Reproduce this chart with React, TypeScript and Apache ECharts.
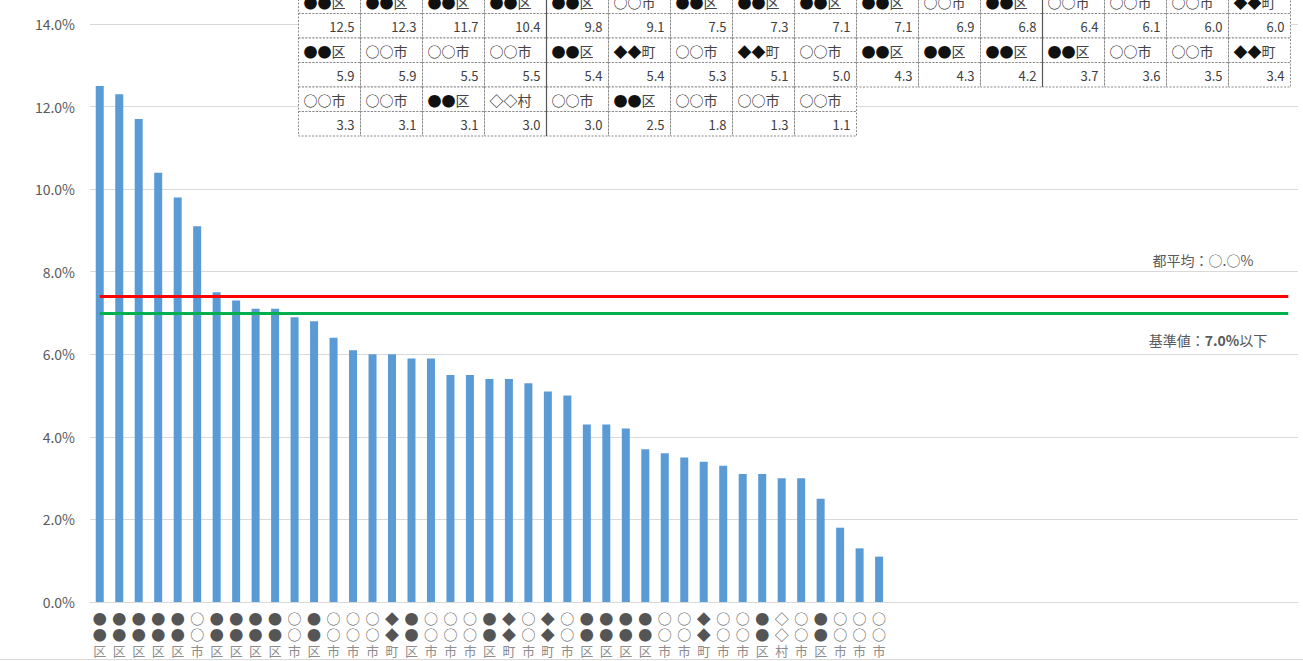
import React, { useEffect, useRef } from "react";
import * as echarts from "echarts";

// ---- data ----
const categories: string[] = [
  "●●区", "●●区", "●●区", "●●区", "●●区", "○○市", "●●区", "●●区", "●●区", "●●区", "○○市", "●●区", "○○市", "○○市", "○○市", "◆◆町",
  "●●区", "○○市", "○○市", "○○市", "●●区", "◆◆町", "○○市", "◆◆町", "○○市", "●●区", "●●区", "●●区", "●●区", "○○市", "○○市", "◆◆町",
  "○○市", "○○市", "●●区", "◇◇村", "○○市", "●●区", "○○市", "○○市", "○○市",
];
const values: number[] = [
  12.5, 12.3, 11.7, 10.4, 9.8, 9.1, 7.5, 7.3, 7.1, 7.1, 6.9, 6.8, 6.4, 6.1, 6.0, 6.0,
  5.9, 5.9, 5.5, 5.5, 5.4, 5.4, 5.3, 5.1, 5.0, 4.3, 4.3, 4.2, 3.7, 3.6, 3.5, 3.4,
  3.3, 3.1, 3.1, 3.0, 3.0, 2.5, 1.8, 1.3, 1.1,
];
const totalSlots = 62; // category slots on the axis (trailing ones empty)
const cityAverage = 7.4;
const standardValue = 7.0;
const avgLabel = "都平均：○.○%";
const stdLabelParts = ["基準値：", "7.0%", "以下"];
const yMin = 0;
const yMax = 14;
const yInterval = 2;

const FONT = '"Noto Sans CJK JP", "Noto Sans", sans-serif';

export default function App() {
  const ref = useRef<HTMLDivElement>(null);

  useEffect(() => {
    if (!ref.current) return;
    const chart = echarts.init(ref.current, undefined, { renderer: "svg" });

    const axisData = categories.concat(
      Array.from({ length: totalSlots - categories.length }, () => "")
    );

    // table built from data
    const cols = 16;
    const tableLeft = 298;
    const colW = 62;
    const tableTop = -11.5;
    const rowH = 24.5;
    const tableEls: any[] = [];
    categories.forEach((cat, i) => {
      const col = i % cols;
      const r = Math.floor(i / cols);
      const x0 = tableLeft + col * colW + 0.5;
      const yl = tableTop + r * 2 * rowH + 0.5;
      const yv = yl + rowH;
      const cellStyle = {
        fill: "#ffffff",
        stroke: "#8a8a8a",
        lineWidth: 1,
        lineDash: [2, 1.5],
      };
      tableEls.push({
        type: "rect",
        z: 100,
        shape: { x: x0, y: yl, width: colW, height: rowH },
        style: cellStyle,
      });
      tableEls.push({
        type: "rect",
        z: 100,
        shape: { x: x0, y: yv, width: colW, height: rowH },
        style: cellStyle,
      });
      tableEls.push({
        type: "text",
        z: 101,
        style: {
          x: x0 + 5,
          y: yl + rowH / 2 + 1,
          text: "{s|" + cat.slice(0, 2) + "}{k|" + cat.slice(2) + "}",
          align: "left",
          verticalAlign: "middle",
          rich: {
            s: { fontSize: 14, fontFamily: FONT, fill: "#111111" },
            k: { fontSize: 14, fontFamily: FONT, fill: "#444444" },
          },
        },
      });
      tableEls.push({
        type: "text",
        z: 101,
        style: {
          x: x0 + colW - 6,
          y: yv + rowH / 2 + 1,
          text: values[i].toFixed(1),
          align: "right",
          verticalAlign: "middle",
          fontSize: 13,
          fontFamily: FONT,
          fill: "#404040",
        },
      });
    });
    // thicker separators
    const nRowsFull = Math.floor(categories.length / cols);
    const sepCols = [4, 12];
    sepCols.forEach((c) => {
      const x = tableLeft + c * colW + 0.5;
      const lastRowUsed = categories.length % cols > c ? nRowsFull + 1 : nRowsFull;
      tableEls.push({
        type: "line",
        z: 102,
        shape: { x1: x, y1: tableTop, x2: x, y2: tableTop + lastRowUsed * 2 * rowH + 0.5 },
        style: { stroke: "#555555", lineWidth: 1.2 },
      });
    });

    chart.setOption({
      animation: false,
      backgroundColor: "#ffffff",
      grid: {
        left: 90,
        right: 5,
        top: 24,
        bottom: 59,
        containLabel: false,
        outerBoundsMode: "none",
      },
      xAxis: {
        type: "category",
        data: axisData,
        axisTick: { show: false },
        axisLine: { lineStyle: { color: "#d9d9d9", width: 1 } },
        axisLabel: {
          interval: 0,
          margin: 8,
          formatter: (v: string) =>
            v ? `{s|${v[0]}}\n{s|${v[1]}}\n{k|${v[2]}}` : "",
          rich: {
            s: { fontSize: 14, lineHeight: 16, color: "#555555", fontFamily: FONT },
            k: { fontSize: 13, lineHeight: 16, color: "#8c8c8c", fontFamily: FONT },
          },
        },
      },
      yAxis: {
        type: "value",
        min: yMin,
        max: yMax,
        interval: yInterval,
        axisLine: { show: false },
        axisTick: { show: false },
        splitLine: { lineStyle: { color: "#d9d9d9", width: 1 } },
        axisLabel: {
          margin: 15,
          fontSize: 14,
          color: "#595959",
          fontFamily: FONT,
          formatter: (v: number) => v.toFixed(1) + "%",
        },
      },
      series: [
        {
          type: "bar",
          data: values,
          barWidth: 8,
          itemStyle: { color: "#5B9BD5" },
          markLine: {
            silent: true,
            symbol: "none",
            label: { show: false },
            data: [
              [
                { coord: [0, cityAverage], lineStyle: { color: "#FF0000", width: 3, type: "solid" } },
                { coord: [totalSlots - 1, cityAverage] },
              ],
              [
                { coord: [0, standardValue], lineStyle: { color: "#00B050", width: 3, type: "solid" } },
                { coord: [totalSlots - 1, standardValue] },
              ],
            ],
          },
        },
      ],
      graphic: [
        ...tableEls,
        {
          type: "text",
          z: 50,
          style: {
            x: 1203,
            y: 260,
            text: avgLabel,
            align: "center",
            verticalAlign: "middle",
            fontSize: 14,
            fontFamily: FONT,
            fill: "#595959",
          },
        },
        {
          type: "text",
          z: 50,
          style: {
            x: 1208,
            y: 340,
            text: `{a|${stdLabelParts[0]}}{b|${stdLabelParts[1]}}{a|${stdLabelParts[2]}}`,
            align: "center",
            verticalAlign: "middle",
            rich: {
              a: { fontSize: 14, fontFamily: FONT, fill: "#595959" },
              b: { fontSize: 14, fontFamily: FONT, fill: "#595959", fontWeight: "bold" },
            },
          },
        },
        {
          type: "line",
          z: 50,
          shape: { x1: 0, y1: 659.5, x2: 1303, y2: 659.5 },
          style: { stroke: "#d9d9d9", lineWidth: 1 },
        },
      ],
    });

    return () => chart.dispose();
  }, []);

  return (
    <div
      ref={ref}
      style={{ position: "fixed", left: 0, top: 0, width: 1303, height: 661 }}
    />
  );
}
